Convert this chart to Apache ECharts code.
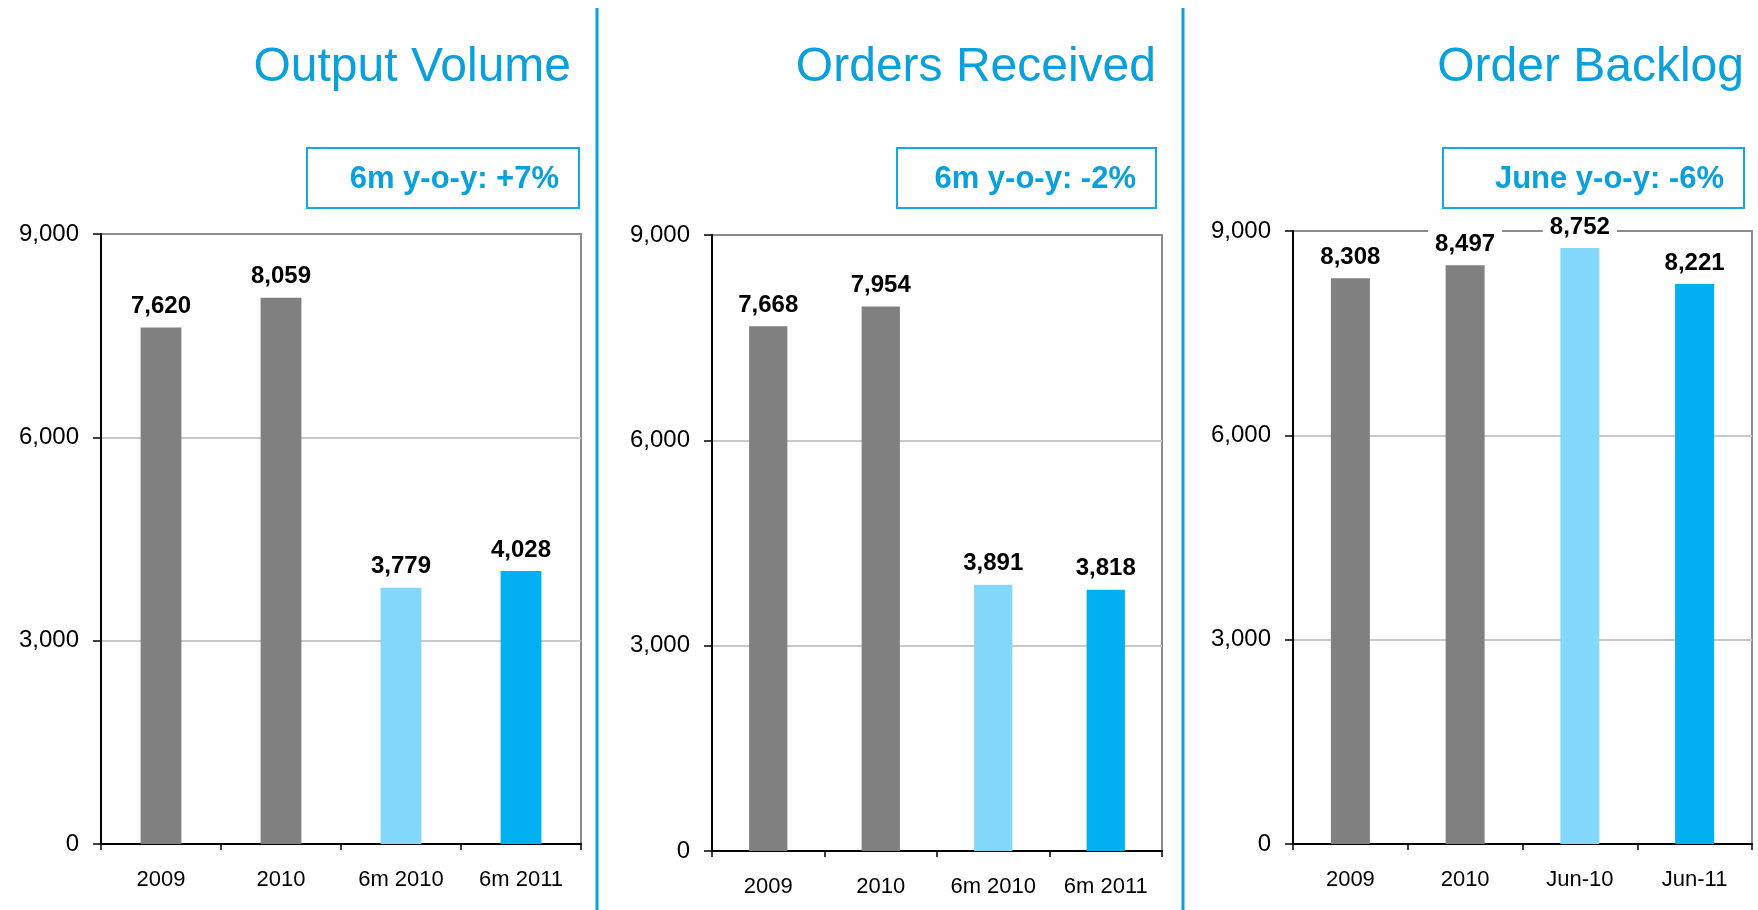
<!DOCTYPE html>
<html>
<head>
<meta charset="utf-8">
<title>Output Volume / Orders Received / Order Backlog</title>
<script src="https://cdn.jsdelivr.net/npm/echarts@6/dist/echarts.min.js"></script>
<style>
  html, body { margin: 0; padding: 0; background: #fff; }
  #main { width: 1758px; height: 910px; }
</style>
</head>
<body>
<div id="main"></div>
<script>
// values
var titles = ['Output Volume', 'Orders Received', 'Order Backlog'];
var notes = ['6m y-o-y: +7%', '6m y-o-y: -2%', 'June y-o-y: -6%'];
var outputCats = ['2009', '2010', '6m 2010', '6m 2011'];
var outputVals = [7620, 8059, 3779, 4028];
var ordersCats = ['2009', '2010', '6m 2010', '6m 2011'];
var ordersVals = [7668, 7954, 3891, 3818];
var backlogCats = ['2009', '2010', 'Jun-10', 'Jun-11'];
var backlogVals = [8308, 8497, 8752, 8221];
var yTicks = [0, 3000, 6000, 9000];

var catSets = [outputCats, ordersCats, backlogCats];
var valSets = [outputVals, ordersVals, backlogVals];

// look
var barColors = ['#808080', '#808080', '#83D7F8', '#00B0F0'];
var blue = '#0AA0DC';
var font = '"Liberation Sans", Arial, sans-serif';

// layout of the three panels (px)
var panels = [
    {grid: {left: 101, right: 1177, top: 234, bottom: 66}, titleRight: 571, box: [307, 148, 272, 60]},
    {grid: {left: 712, right: 596, top: 235, bottom: 59}, titleRight: 1156, box: [897, 148, 259, 60]},
    {grid: {left: 1293, right: 6, top: 231, bottom: 66}, titleRight: 1744, box: [1443, 148, 301, 60]}
];
var separators = [597, 1183];

function fmt(v) {
    return Number(v).toLocaleString('en-US');
}

var option = {
    animation: false,
    backgroundColor: '#fff',
    grid: [],
    xAxis: [],
    yAxis: [],
    series: [],
    graphic: []
};

panels.forEach(function(p, i) {
    option.grid.push(Object.assign({
        show: true,
        borderColor: '#8c8c8c',
        borderWidth: 2,
        backgroundColor: 'transparent'
    }, p.grid));

    option.xAxis.push({
        type: 'category',
        gridIndex: i,
        data: catSets[i],
        axisLine: {lineStyle: {color: '#000', width: 2}},
        axisTick: {show: true, length: 6, lineStyle: {color: '#000', width: 1.5}},
        axisLabel: {color: '#000', fontSize: 22, fontFamily: font, margin: 25, interval: 0}
    });

    option.yAxis.push({
        type: 'value',
        gridIndex: i,
        min: yTicks[0],
        max: yTicks[yTicks.length - 1],
        interval: yTicks[1] - yTicks[0],
        axisLine: {show: true, lineStyle: {color: '#000', width: 2}},
        axisTick: {show: true, length: 8, lineStyle: {color: '#000', width: 1.5}},
        axisLabel: {
            color: '#000', fontSize: 24, fontFamily: font, margin: 22,
            padding: [4, 0, 0, 0], formatter: fmt
        },
        splitLine: {show: true, showMaxLine: false, lineStyle: {color: '#c8c8c8', width: 2}}
    });

    option.series.push({
        type: 'bar',
        xAxisIndex: i,
        yAxisIndex: i,
        data: valSets[i],
        barWidth: '34%',
        itemStyle: {
            color: function(params) { return barColors[params.dataIndex]; }
        },
        label: {
            show: true,
            position: 'top',
            distance: 5,
            color: '#000',
            fontWeight: 'bold',
            fontSize: 24,
            fontFamily: font,
            backgroundColor: '#fff',
            padding: [4, 7],
            formatter: function(params) { return fmt(params.value); }
        }
    });

    // panel title
    option.graphic.push({
        type: 'text',
        style: {
            text: titles[i],
            x: p.titleRight,
            y: 68,
            align: 'right',
            verticalAlign: 'middle',
            font: '48px ' + font,
            fill: blue
        }
    });

    // y-o-y box
    option.graphic.push({
        type: 'rect',
        shape: {x: p.box[0], y: p.box[1], width: p.box[2], height: p.box[3]},
        style: {fill: 'none', stroke: '#12A9E6', lineWidth: 2}
    });
    option.graphic.push({
        type: 'text',
        style: {
            text: notes[i],
            x: p.box[0] + p.box[2] - 20,
            y: 179,
            align: 'right',
            verticalAlign: 'middle',
            font: 'bold 31px ' + font,
            fill: blue
        }
    });
});

separators.forEach(function(x) {
    option.graphic.push({
        type: 'line',
        shape: {x1: x, y1: 8, x2: x, y2: 910},
        style: {stroke: blue, lineWidth: 3}
    });
});

var myChart = echarts.init(document.getElementById('main'));
myChart.setOption(option);
</script>
</body>
</html>
